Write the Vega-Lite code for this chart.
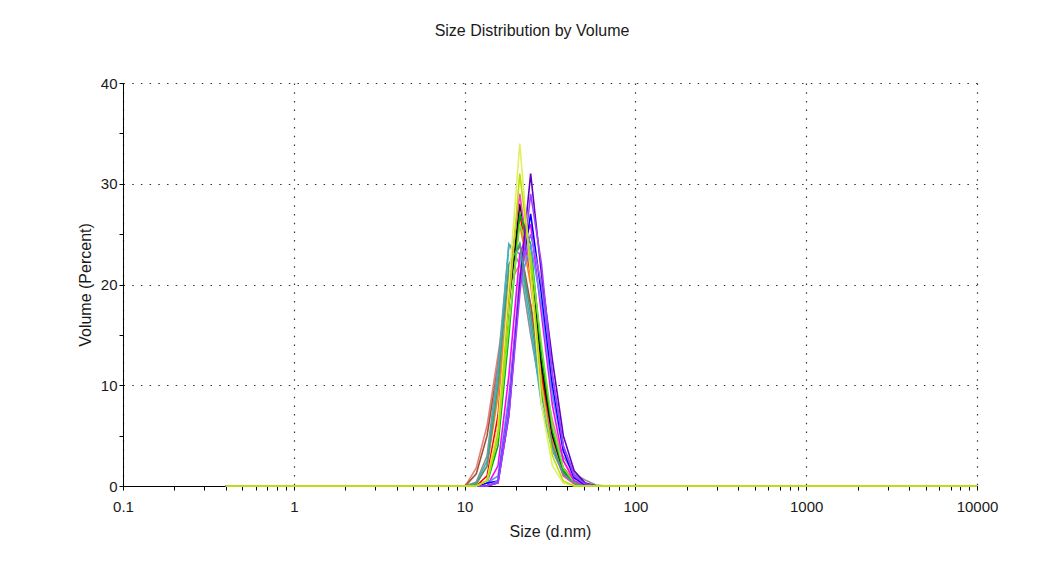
{
  "$schema": "https://vega.github.io/schema/vega-lite/v6.json",
  "width": 854,
  "height": 403,
  "autosize": {"type": "none"},
  "padding": {"left": 123, "top": 83, "right": 67, "bottom": 97},
  "background": "white",
  "title": {"text": "Size Distribution by Volume", "fontSize": 16, "font": "Liberation Sans", "fontWeight": "normal", "color": "#1a1a1a", "offset": 37, "dx": -18, "anchor": "middle"},
  "config": {"view": {"stroke": null}, "font": "Liberation Sans"},
  "datasets": {
    "runs": [
      {"run":"s01","size":0.4,"vol":0},{"run":"s01","size":10.1,"vol":0},{"run":"s01","size":11.7,"vol":1.8},{"run":"s01","size":13.54,"vol":6},{"run":"s01","size":15.69,"vol":13},{"run":"s01","size":18.17,"vol":20},{"run":"s01","size":21.04,"vol":22},{"run":"s01","size":24.36,"vol":18},{"run":"s01","size":28.21,"vol":12},{"run":"s01","size":32.67,"vol":6.5},{"run":"s01","size":37.84,"vol":2.5},{"run":"s01","size":43.82,"vol":0.8},{"run":"s01","size":50.75,"vol":0.2},{"run":"s01","size":58.77,"vol":0},{"run":"s01","size":10000,"vol":0},
      {"run":"s02","size":0.4,"vol":0},{"run":"s02","size":10.1,"vol":0},{"run":"s02","size":11.7,"vol":1.2},{"run":"s02","size":13.54,"vol":5},{"run":"s02","size":15.69,"vol":12},{"run":"s02","size":18.17,"vol":21},{"run":"s02","size":21.04,"vol":24},{"run":"s02","size":24.36,"vol":18},{"run":"s02","size":28.21,"vol":10},{"run":"s02","size":32.67,"vol":4.5},{"run":"s02","size":37.84,"vol":1.5},{"run":"s02","size":43.82,"vol":0.4},{"run":"s02","size":50.75,"vol":0},{"run":"s02","size":10000,"vol":0},
      {"run":"s03","size":0.4,"vol":0},{"run":"s03","size":10.1,"vol":0},{"run":"s03","size":11.7,"vol":0.4},{"run":"s03","size":13.54,"vol":3},{"run":"s03","size":15.69,"vol":12},{"run":"s03","size":18.17,"vol":24},{"run":"s03","size":21.04,"vol":22},{"run":"s03","size":24.36,"vol":15},{"run":"s03","size":28.21,"vol":9},{"run":"s03","size":32.67,"vol":5},{"run":"s03","size":37.84,"vol":2.9},{"run":"s03","size":43.82,"vol":1.2},{"run":"s03","size":50.75,"vol":0.6},{"run":"s03","size":58.77,"vol":0.1},{"run":"s03","size":68.06,"vol":0},{"run":"s03","size":10000,"vol":0},
      {"run":"s04","size":0.4,"vol":0},{"run":"s04","size":10.1,"vol":0},{"run":"s04","size":11.7,"vol":0.3},{"run":"s04","size":13.54,"vol":2.5},{"run":"s04","size":15.69,"vol":11},{"run":"s04","size":18.17,"vol":24},{"run":"s04","size":21.04,"vol":23},{"run":"s04","size":24.36,"vol":16},{"run":"s04","size":28.21,"vol":8},{"run":"s04","size":32.67,"vol":3.5},{"run":"s04","size":37.84,"vol":1.2},{"run":"s04","size":43.82,"vol":0.3},{"run":"s04","size":50.75,"vol":0},{"run":"s04","size":10000,"vol":0},
      {"run":"s05","size":0.4,"vol":0},{"run":"s05","size":10.1,"vol":0},{"run":"s05","size":11.7,"vol":0.2},{"run":"s05","size":13.54,"vol":2},{"run":"s05","size":15.69,"vol":9},{"run":"s05","size":18.17,"vol":20},{"run":"s05","size":21.04,"vol":26},{"run":"s05","size":24.36,"vol":20},{"run":"s05","size":28.21,"vol":11},{"run":"s05","size":32.67,"vol":4.5},{"run":"s05","size":37.84,"vol":1.3},{"run":"s05","size":43.82,"vol":0.3},{"run":"s05","size":50.75,"vol":0},{"run":"s05","size":10000,"vol":0},
      {"run":"s06","size":0.4,"vol":0},{"run":"s06","size":11.7,"vol":0},{"run":"s06","size":13.54,"vol":1},{"run":"s06","size":15.69,"vol":7},{"run":"s06","size":18.17,"vol":19},{"run":"s06","size":21.04,"vol":27},{"run":"s06","size":24.36,"vol":21},{"run":"s06","size":28.21,"vol":11},{"run":"s06","size":32.67,"vol":5},{"run":"s06","size":37.84,"vol":1.8},{"run":"s06","size":43.82,"vol":0.5},{"run":"s06","size":50.75,"vol":0},{"run":"s06","size":10000,"vol":0},
      {"run":"s07","size":0.4,"vol":0},{"run":"s07","size":11.7,"vol":0},{"run":"s07","size":13.54,"vol":0.5},{"run":"s07","size":15.69,"vol":5},{"run":"s07","size":18.17,"vol":18},{"run":"s07","size":21.04,"vol":28},{"run":"s07","size":24.36,"vol":22},{"run":"s07","size":28.21,"vol":12},{"run":"s07","size":32.67,"vol":5},{"run":"s07","size":37.84,"vol":1.5},{"run":"s07","size":43.82,"vol":0.3},{"run":"s07","size":50.75,"vol":0},{"run":"s07","size":10000,"vol":0},
      {"run":"s08","size":0.4,"vol":0},{"run":"s08","size":11.7,"vol":0},{"run":"s08","size":13.54,"vol":0.5},{"run":"s08","size":15.69,"vol":6},{"run":"s08","size":18.17,"vol":20},{"run":"s08","size":21.04,"vol":29},{"run":"s08","size":24.36,"vol":21},{"run":"s08","size":28.21,"vol":10},{"run":"s08","size":32.67,"vol":4},{"run":"s08","size":37.84,"vol":1},{"run":"s08","size":43.82,"vol":0.2},{"run":"s08","size":50.75,"vol":0},{"run":"s08","size":10000,"vol":0},
      {"run":"s09","size":0.4,"vol":0},{"run":"s09","size":11.7,"vol":0},{"run":"s09","size":13.54,"vol":0.3},{"run":"s09","size":15.69,"vol":4},{"run":"s09","size":18.17,"vol":15},{"run":"s09","size":21.04,"vol":27},{"run":"s09","size":24.36,"vol":24},{"run":"s09","size":28.21,"vol":13},{"run":"s09","size":32.67,"vol":5.5},{"run":"s09","size":37.84,"vol":1.5},{"run":"s09","size":43.82,"vol":0.3},{"run":"s09","size":50.75,"vol":0},{"run":"s09","size":10000,"vol":0},
      {"run":"s10","size":0.4,"vol":0},{"run":"s10","size":11.7,"vol":0},{"run":"s10","size":13.54,"vol":0.3},{"run":"s10","size":15.69,"vol":5},{"run":"s10","size":18.17,"vol":16},{"run":"s10","size":21.04,"vol":26},{"run":"s10","size":24.36,"vol":23},{"run":"s10","size":28.21,"vol":14},{"run":"s10","size":32.67,"vol":6},{"run":"s10","size":37.84,"vol":1.8},{"run":"s10","size":43.82,"vol":0.4},{"run":"s10","size":50.75,"vol":0},{"run":"s10","size":10000,"vol":0},
      {"run":"s11","size":0.4,"vol":0},{"run":"s11","size":13.54,"vol":0},{"run":"s11","size":15.69,"vol":2},{"run":"s11","size":18.17,"vol":11},{"run":"s11","size":21.04,"vol":23},{"run":"s11","size":24.36,"vol":26},{"run":"s11","size":28.21,"vol":17},{"run":"s11","size":32.67,"vol":8},{"run":"s11","size":37.84,"vol":2.5},{"run":"s11","size":43.82,"vol":0.5},{"run":"s11","size":50.75,"vol":0},{"run":"s11","size":10000,"vol":0},
      {"run":"s12","size":0.4,"vol":0},{"run":"s12","size":11.7,"vol":0},{"run":"s12","size":13.54,"vol":0.3},{"run":"s12","size":15.69,"vol":1},{"run":"s12","size":18.17,"vol":9},{"run":"s12","size":21.04,"vol":20},{"run":"s12","size":24.36,"vol":24},{"run":"s12","size":28.21,"vol":18},{"run":"s12","size":32.67,"vol":9},{"run":"s12","size":37.84,"vol":3.5},{"run":"s12","size":43.82,"vol":1},{"run":"s12","size":50.75,"vol":0.2},{"run":"s12","size":58.77,"vol":0},{"run":"s12","size":10000,"vol":0},
      {"run":"s13","size":0.4,"vol":0},{"run":"s13","size":11.7,"vol":0},{"run":"s13","size":13.54,"vol":0.3},{"run":"s13","size":15.69,"vol":0.5},{"run":"s13","size":18.17,"vol":8},{"run":"s13","size":21.04,"vol":20},{"run":"s13","size":24.36,"vol":27},{"run":"s13","size":28.21,"vol":19},{"run":"s13","size":32.67,"vol":10},{"run":"s13","size":37.84,"vol":3.5},{"run":"s13","size":43.82,"vol":0.8},{"run":"s13","size":50.75,"vol":0.1},{"run":"s13","size":58.77,"vol":0},{"run":"s13","size":10000,"vol":0},
      {"run":"s14","size":0.4,"vol":0},{"run":"s14","size":13.54,"vol":0},{"run":"s14","size":15.69,"vol":0.5},{"run":"s14","size":18.17,"vol":8},{"run":"s14","size":21.04,"vol":21},{"run":"s14","size":24.36,"vol":25},{"run":"s14","size":28.21,"vol":20},{"run":"s14","size":32.67,"vol":11},{"run":"s14","size":37.84,"vol":4},{"run":"s14","size":43.82,"vol":1.2},{"run":"s14","size":50.75,"vol":0.3},{"run":"s14","size":58.77,"vol":0},{"run":"s14","size":10000,"vol":0},
      {"run":"s15","size":0.4,"vol":0},{"run":"s15","size":13.54,"vol":0},{"run":"s15","size":15.69,"vol":0.3},{"run":"s15","size":18.17,"vol":7},{"run":"s15","size":21.04,"vol":20},{"run":"s15","size":24.36,"vol":31},{"run":"s15","size":28.21,"vol":21},{"run":"s15","size":32.67,"vol":12.5},{"run":"s15","size":37.84,"vol":5},{"run":"s15","size":43.82,"vol":1.5},{"run":"s15","size":50.75,"vol":0.3},{"run":"s15","size":58.77,"vol":0},{"run":"s15","size":10000,"vol":0},
      {"run":"s16","size":0.4,"vol":0},{"run":"s16","size":13.54,"vol":0},{"run":"s16","size":15.69,"vol":0.3},{"run":"s16","size":18.17,"vol":7},{"run":"s16","size":21.04,"vol":19},{"run":"s16","size":24.36,"vol":29},{"run":"s16","size":28.21,"vol":22},{"run":"s16","size":32.67,"vol":11},{"run":"s16","size":37.84,"vol":4},{"run":"s16","size":43.82,"vol":1},{"run":"s16","size":50.75,"vol":0.2},{"run":"s16","size":58.77,"vol":0},{"run":"s16","size":10000,"vol":0},
      {"run":"s17","size":0.4,"vol":0},{"run":"s17","size":10.1,"vol":0},{"run":"s17","size":11.7,"vol":0.2},{"run":"s17","size":13.54,"vol":2},{"run":"s17","size":15.69,"vol":10},{"run":"s17","size":18.17,"vol":22},{"run":"s17","size":21.04,"vol":24},{"run":"s17","size":24.36,"vol":17},{"run":"s17","size":28.21,"vol":9},{"run":"s17","size":32.67,"vol":4},{"run":"s17","size":37.84,"vol":1.2},{"run":"s17","size":43.82,"vol":0.3},{"run":"s17","size":50.75,"vol":0},{"run":"s17","size":10000,"vol":0},
      {"run":"s18","size":0.4,"vol":0},{"run":"s18","size":11.7,"vol":0},{"run":"s18","size":13.54,"vol":0.5},{"run":"s18","size":15.69,"vol":6},{"run":"s18","size":18.17,"vol":20},{"run":"s18","size":21.04,"vol":34},{"run":"s18","size":24.36,"vol":21},{"run":"s18","size":28.21,"vol":8},{"run":"s18","size":32.67,"vol":2},{"run":"s18","size":37.84,"vol":0.3},{"run":"s18","size":43.82,"vol":0},{"run":"s18","size":10000,"vol":0},
      {"run":"s19","size":0.4,"vol":0},{"run":"s19","size":11.7,"vol":0},{"run":"s19","size":13.54,"vol":0.5},{"run":"s19","size":15.69,"vol":5},{"run":"s19","size":18.17,"vol":18},{"run":"s19","size":21.04,"vol":31},{"run":"s19","size":24.36,"vol":22},{"run":"s19","size":28.21,"vol":10},{"run":"s19","size":32.67,"vol":3},{"run":"s19","size":37.84,"vol":0.5},{"run":"s19","size":43.82,"vol":0},{"run":"s19","size":10000,"vol":0}
    ]
  },
  "data": {"name": "runs"},
  "mark": {"type": "line", "strokeWidth": 1.6, "clip": false},
  "encoding": {
    "x": {
      "field": "size",
      "type": "quantitative",
      "scale": {"type": "log", "domain": [0.1, 10000], "nice": false},
      "axis": {
        "title": "Size (d.nm)",
        "values": [0.1,0.2,0.3,0.4,0.5,0.6,0.7,0.8,0.9,1,2,3,4,5,6,7,8,9,10,20,30,40,50,60,70,80,90,100,200,300,400,500,600,700,800,900,1000,2000,3000,4000,5000,6000,7000,8000,9000,10000],
        "labelExpr": "abs(log(datum.value)/LN10 - round(log(datum.value)/LN10)) < 0.001 ? format(datum.value, '~g') : ''",
        "labelFlush": false,
        "labelOverlap": false,
        "labelBound": false,
        "labelFontSize": 15,
        "labelColor": "#1a1a1a",
        "labelPadding": 9,
        "tickSize": 4,
        "tickColor": "#000000",
        "domainColor": "#000000",
        "grid": true,
        "gridColor": "#333333",
        "gridDash": [1.5, 7.2],
        "gridWidth": 1.2,
        "gridOpacity": {"condition": {"test": "abs(log(datum.value)/LN10 - round(log(datum.value)/LN10)) < 0.001", "value": 1}, "value": 0},
        "titleFontSize": 16,
        "titleFontWeight": "normal",
        "titleColor": "#1a1a1a",
        "titlePadding": 9
      }
    },
    "y": {
      "field": "vol",
      "type": "quantitative",
      "scale": {"domain": [0, 40], "nice": false},
      "axis": {
        "title": "Volume (Percent)",
        "values": [0,5,10,15,20,25,30,35,40],
        "labelExpr": "datum.value % 10 == 0 ? format(datum.value, 'd') : ''",
        "labelFontSize": 15,
        "labelColor": "#1a1a1a",
        "labelPadding": 2,
        "tickSize": 4,
        "tickColor": "#000000",
        "domainColor": "#000000",
        "grid": true,
        "gridColor": "#333333",
        "gridDash": [1.5, 7.2],
        "gridWidth": 1.2,
        "gridOpacity": {"condition": {"test": "datum.value % 10 == 0", "value": 1}, "value": 0},
        "titleFontSize": 16,
        "titleFontWeight": "normal",
        "titleColor": "#1a1a1a",
        "titlePadding": 7
      }
    },
    "color": {
      "field": "run",
      "type": "nominal",
      "legend": null,
      "scale": {
        "domain": ["s01","s02","s03","s04","s05","s06","s07","s08","s09","s10","s11","s12","s13","s14","s15","s16","s17","s18","s19"],
        "range": ["#e88080","#a0522d","#909090","#40b0c8","#ff8000","#ff0000","#000000","#ff40c0","#00b000","#80e040","#ff00ff","#6090ff","#0000ff","#9060ff","#6000c0","#a040ff","#40a080","#e0f060","#b8e000"]
      }
    }
  }
}
